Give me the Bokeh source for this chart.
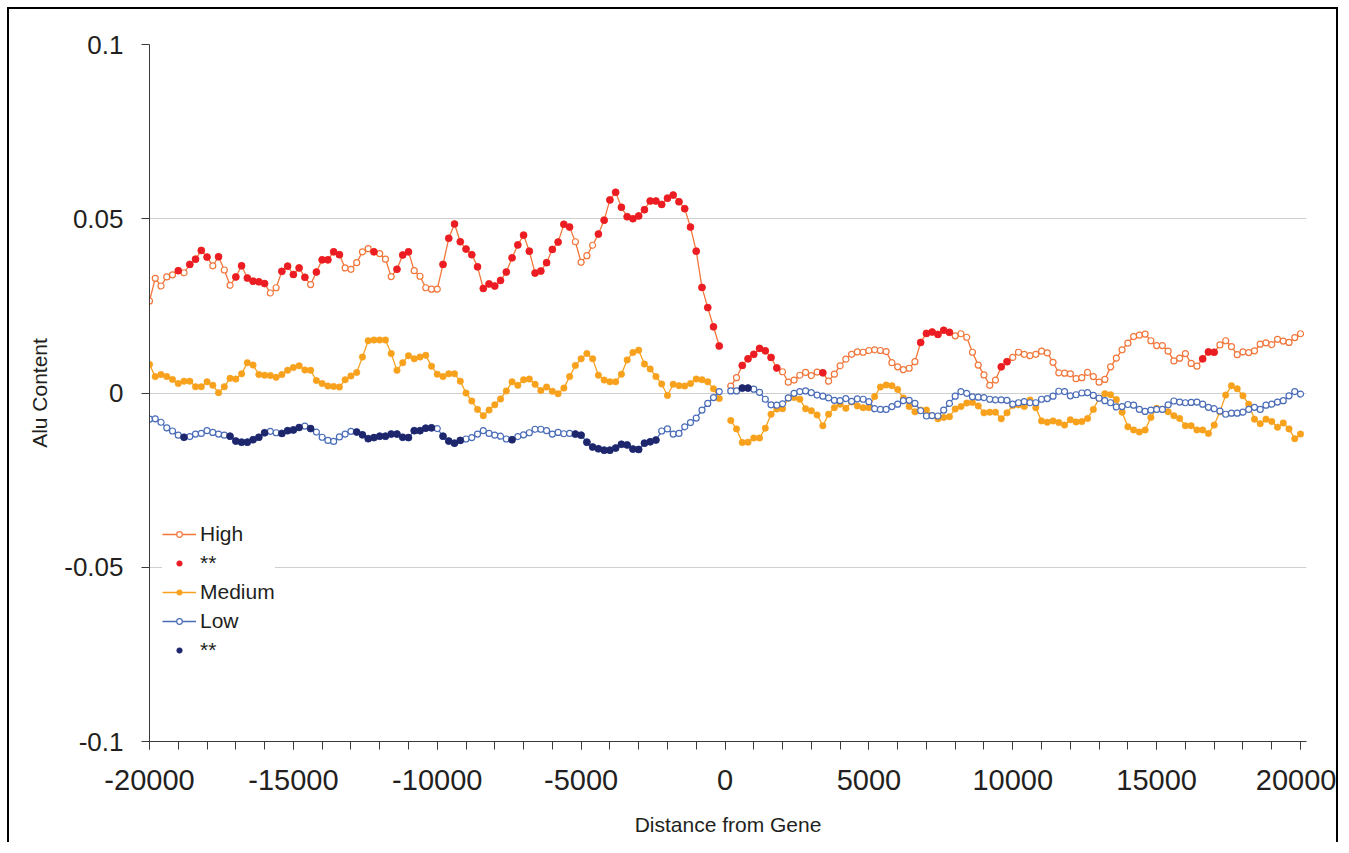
from bokeh.plotting import figure
from bokeh.models import (Range1d, SingleIntervalTicker, FixedTicker, NumeralTickFormatter,
                          Legend, LegendItem)
from bokeh.embed import file_html
from bokeh.resources import INLINE

# ---------------- data ----------------
x_up = list(range(-20000, 0, 200))        # upstream positions (-20000 .. -200)
x_down = list(range(200, 20001, 200))     # downstream positions (200 .. 20000)

high_up = [
    0.0264, 0.0329, 0.0307, 0.0333, 0.0339, 0.0351, 0.0345, 0.0369, 0.0384, 0.0409,
    0.0390, 0.0365, 0.0391, 0.0353, 0.0309, 0.0333, 0.0365, 0.0330, 0.0321, 0.0319,
    0.0314, 0.0287, 0.0302, 0.0349, 0.0364, 0.0340, 0.0359, 0.0332, 0.0311, 0.0347,
    0.0382, 0.0382, 0.0405, 0.0397, 0.0359, 0.0355, 0.0374, 0.0405, 0.0414, 0.0405,
    0.0400, 0.0384, 0.0334, 0.0355, 0.0396, 0.0405, 0.0351, 0.0335, 0.0302, 0.0298,
    0.0298, 0.0369, 0.0444, 0.0485, 0.0434, 0.0413, 0.0397, 0.0362, 0.0300, 0.0313,
    0.0307, 0.0323, 0.0347, 0.0388, 0.0425, 0.0453, 0.0407, 0.0344, 0.0350, 0.0374,
    0.0412, 0.0433, 0.0484, 0.0476, 0.0434, 0.0375, 0.0394, 0.0424, 0.0456, 0.0496,
    0.0554, 0.0576, 0.0533, 0.0506, 0.0500, 0.0508, 0.0526, 0.0551, 0.0551, 0.0541,
    0.0559, 0.0568, 0.0549, 0.0529, 0.0476, 0.0407, 0.0303, 0.0245, 0.0190, 0.0135]
high_up_sig = [
    0, 0, 0, 0, 0, 1, 0, 1, 1, 1,
    1, 0, 1, 0, 0, 1, 1, 1, 1, 1,
    1, 0, 0, 1, 1, 1, 1, 1, 0, 1,
    1, 1, 1, 1, 0, 0, 0, 0, 0, 1,
    0, 0, 0, 1, 1, 1, 0, 0, 0, 0,
    0, 1, 1, 1, 1, 1, 1, 1, 1, 1,
    1, 1, 1, 1, 1, 1, 1, 1, 1, 1,
    1, 1, 1, 1, 0, 0, 0, 0, 1, 1,
    1, 1, 1, 1, 1, 1, 1, 1, 1, 1,
    1, 1, 1, 1, 1, 1, 1, 1, 1, 1]

high_down = [
    0.0020, 0.0044, 0.0079, 0.0098, 0.0111, 0.0128, 0.0121, 0.0102, 0.0072, 0.0061,
    0.0031, 0.0037, 0.0051, 0.0059, 0.0050, 0.0060, 0.0058, 0.0034, 0.0054, 0.0078,
    0.0097, 0.0111, 0.0118, 0.0117, 0.0122, 0.0124, 0.0122, 0.0119, 0.0087, 0.0075,
    0.0067, 0.0071, 0.0090, 0.0145, 0.0171, 0.0175, 0.0168, 0.0180, 0.0174, 0.0164,
    0.0170, 0.0160, 0.0117, 0.0080, 0.0052, 0.0022, 0.0037, 0.0075, 0.0090, 0.0102,
    0.0117, 0.0111, 0.0107, 0.0111, 0.0120, 0.0115, 0.0088, 0.0058, 0.0057, 0.0055,
    0.0041, 0.0044, 0.0059, 0.0047, 0.0031, 0.0039, 0.0075, 0.0100, 0.0124, 0.0143,
    0.0162, 0.0166, 0.0169, 0.0150, 0.0136, 0.0136, 0.0120, 0.0092, 0.0100, 0.0113,
    0.0085, 0.0077, 0.0098, 0.0118, 0.0117, 0.0138, 0.0150, 0.0133, 0.0110, 0.0118,
    0.0116, 0.0121, 0.0140, 0.0144, 0.0139, 0.0154, 0.0149, 0.0145, 0.0159, 0.0170]
high_down_sig = [
    0, 0, 1, 1, 1, 1, 1, 1, 1, 0,
    0, 0, 0, 0, 0, 0, 1, 0, 0, 0,
    0, 0, 0, 0, 0, 0, 0, 0, 0, 0,
    0, 0, 0, 1, 1, 1, 1, 1, 1, 0,
    0, 0, 0, 0, 0, 0, 0, 1, 1, 0,
    0, 0, 0, 0, 0, 0, 0, 0, 0, 0,
    0, 0, 0, 0, 0, 0, 0, 0, 0, 0,
    0, 0, 0, 0, 0, 0, 0, 0, 0, 0,
    0, 0, 1, 1, 1, 0, 0, 0, 0, 0,
    0, 0, 0, 0, 0, 0, 0, 0, 0, 0]

medium_up = [
    0.0082, 0.0047, 0.0053, 0.0047, 0.0039, 0.0027, 0.0034, 0.0034, 0.0018, 0.0018,
    0.0032, 0.0022, 0.0001, 0.0018, 0.0042, 0.0040, 0.0055, 0.0087, 0.0080, 0.0053,
    0.0051, 0.0050, 0.0045, 0.0053, 0.0065, 0.0073, 0.0078, 0.0066, 0.0065, 0.0036,
    0.0027, 0.0020, 0.0019, 0.0017, 0.0038, 0.0049, 0.0059, 0.0103, 0.0150, 0.0152,
    0.0152, 0.0152, 0.0113, 0.0065, 0.0087, 0.0107, 0.0098, 0.0103, 0.0108, 0.0077,
    0.0054, 0.0047, 0.0055, 0.0055, 0.0034, 0.0000, -0.0023, -0.0047, -0.0065, -0.0049,
    -0.0034, -0.0017, 0.0006, 0.0032, 0.0022, 0.0038, 0.0040, 0.0025, 0.0007, 0.0017,
    0.0005, -0.0002, 0.0014, 0.0047, 0.0079, 0.0098, 0.0113, 0.0098, 0.0051, 0.0037,
    0.0032, 0.0032, 0.0054, 0.0095, 0.0116, 0.0123, 0.0083, 0.0069, 0.0047, 0.0026,
    -0.0007, 0.0025, 0.0021, 0.0020, 0.0027, 0.0040, 0.0038, 0.0032, 0.0012, -0.0016]

medium_down = [
    -0.0079, -0.0103, -0.0142, -0.0141, -0.0129, -0.0129, -0.0101, -0.0061, -0.0046, -0.0045,
    -0.0015, -0.0013, -0.0018, -0.0045, -0.0051, -0.0063, -0.0094, -0.0061, -0.0042, -0.0032,
    -0.0044, -0.0026, -0.0037, -0.0042, -0.0042, -0.0010, 0.0017, 0.0023, 0.0021, 0.0010,
    -0.0014, -0.0039, -0.0054, -0.0049, -0.0049, -0.0065, -0.0074, -0.0070, -0.0068, -0.0046,
    -0.0039, -0.0029, -0.0027, -0.0037, -0.0057, -0.0055, -0.0055, -0.0074, -0.0057, -0.0036,
    -0.0034, -0.0039, -0.0020, -0.0042, -0.0080, -0.0084, -0.0080, -0.0085, -0.0092, -0.0077,
    -0.0083, -0.0082, -0.0073, -0.0047, -0.0015, -0.0002, -0.0005, -0.0019, -0.0055, -0.0097,
    -0.0106, -0.0112, -0.0106, -0.0070, -0.0044, -0.0047, -0.0054, -0.0065, -0.0073, -0.0094,
    -0.0094, -0.0106, -0.0106, -0.0116, -0.0092, -0.0054, -0.0006, 0.0021, 0.0012, -0.0008,
    -0.0032, -0.0075, -0.0088, -0.0075, -0.0082, -0.0098, -0.0086, -0.0103, -0.0131, -0.0118]

low_up = [
    -0.0075, -0.0074, -0.0084, -0.0100, -0.0109, -0.0121, -0.0127, -0.0125, -0.0118, -0.0116,
    -0.0108, -0.0113, -0.0118, -0.0121, -0.0124, -0.0138, -0.0141, -0.0141, -0.0134, -0.0127,
    -0.0114, -0.0110, -0.0114, -0.0116, -0.0108, -0.0106, -0.0099, -0.0095, -0.0102, -0.0112,
    -0.0127, -0.0136, -0.0139, -0.0126, -0.0118, -0.0110, -0.0112, -0.0120, -0.0131, -0.0128,
    -0.0124, -0.0124, -0.0118, -0.0118, -0.0127, -0.0128, -0.0108, -0.0108, -0.0101, -0.0100,
    -0.0102, -0.0124, -0.0138, -0.0144, -0.0136, -0.0132, -0.0128, -0.0118, -0.0108, -0.0116,
    -0.0121, -0.0124, -0.0132, -0.0134, -0.0125, -0.0120, -0.0114, -0.0104, -0.0104, -0.0108,
    -0.0118, -0.0113, -0.0117, -0.0116, -0.0118, -0.0121, -0.0141, -0.0155, -0.0160, -0.0164,
    -0.0164, -0.0158, -0.0147, -0.0149, -0.0161, -0.0162, -0.0144, -0.0140, -0.0135, -0.0109,
    -0.0103, -0.0118, -0.0116, -0.0097, -0.0085, -0.0072, -0.0049, -0.0030, -0.0013, 0.0004]
low_up_sig = [
    0, 0, 0, 0, 0, 0, 1, 0, 0, 0,
    0, 0, 0, 0, 1, 1, 1, 1, 1, 1,
    1, 0, 0, 1, 1, 1, 1, 0, 1, 0,
    0, 0, 0, 0, 0, 0, 1, 1, 1, 1,
    1, 1, 1, 1, 1, 1, 1, 1, 1, 1,
    0, 1, 1, 1, 1, 0, 0, 0, 0, 0,
    0, 0, 0, 1, 0, 0, 0, 0, 0, 0,
    0, 0, 0, 0, 1, 1, 1, 1, 1, 1,
    1, 1, 1, 1, 1, 1, 1, 1, 1, 0,
    0, 0, 0, 0, 0, 0, 0, 0, 0, 0]

low_down = [
    0.0006, 0.0006, 0.0014, 0.0014, 0.0011, 0.0002, -0.0018, -0.0034, -0.0035, -0.0031,
    -0.0014, -0.0001, 0.0004, 0.0006, 0.0001, -0.0006, -0.0009, -0.0014, -0.0021, -0.0022,
    -0.0016, -0.0024, -0.0017, -0.0018, -0.0025, -0.0045, -0.0047, -0.0047, -0.0039, -0.0032,
    -0.0022, -0.0021, -0.0030, -0.0051, -0.0066, -0.0065, -0.0066, -0.0049, -0.0030, -0.0009,
    0.0004, -0.0001, -0.0011, -0.0012, -0.0013, -0.0018, -0.0020, -0.0020, -0.0021, -0.0032,
    -0.0028, -0.0025, -0.0028, -0.0028, -0.0018, -0.0016, -0.0009, 0.0005, 0.0004, -0.0008,
    -0.0005, 0.0000, 0.0001, -0.0007, -0.0015, -0.0022, -0.0028, -0.0040, -0.0039, -0.0033,
    -0.0035, -0.0047, -0.0053, -0.0049, -0.0047, -0.0047, -0.0034, -0.0023, -0.0026, -0.0028,
    -0.0027, -0.0026, -0.0032, -0.0041, -0.0045, -0.0052, -0.0061, -0.0058, -0.0058, -0.0055,
    -0.0047, -0.0041, -0.0047, -0.0035, -0.0032, -0.0026, -0.0022, -0.0008, 0.0004, -0.0003]
low_down_sig = [0, 0, 1, 1] + [0] * 96

y_ticks = [-0.1, -0.05, 0, 0.05, 0.1]

# ---------------- style ----------------
C_HIGH = "#F2763A"
C_HIGH_SIG = "#EC1C24"
C_MED = "#F7A11C"
C_LOW = "#4A6CB8"
C_LOW_SIG = "#1F276C"
FONT = "Liberation Sans"
TXT = "#231F20"

p = figure(width=1331, height=835,
           x_range=Range1d(-20000, 20208), y_range=Range1d(-0.1, 0.1),
           output_backend="svg", toolbar_location=None,
           min_border_left=140, min_border_right=34,
           min_border_top=35, min_border_bottom=103)
p.styles = {"border-left": "2px solid #000", "border-top": "2px solid #000",
            "border-right": "2px solid #000",
            "margin-left": "7px", "margin-top": "7px"}
p.outline_line_color = None
p.background_fill_color = "white"

# axes
xa = p.xaxis[0]
xa.ticker = SingleIntervalTicker(interval=5000, num_minor_ticks=5)
xa.formatter = NumeralTickFormatter(format="0")
ya = p.yaxis[0]
ya.ticker = FixedTicker(ticks=y_ticks)
ya.formatter = NumeralTickFormatter(format="0.[00]")
for ax in (xa, ya):
    ax.axis_line_color = "#3a3a3a"
    ax.axis_line_width = 1
    ax.major_tick_line_color = "#3a3a3a"
    ax.minor_tick_line_color = "#3a3a3a"
    ax.major_tick_in = 0
    ax.major_tick_out = 8
    ax.minor_tick_in = 0
    ax.major_label_text_font = FONT
    ax.major_label_text_color = TXT
    ax.axis_label_text_font = FONT
    ax.axis_label_text_font_style = "normal"
    ax.axis_label_text_color = TXT
    ax.axis_label_text_font_size = "21px"
xa.minor_tick_out = 8
ya.minor_tick_out = 0
xa.major_label_text_font_size = "29px"
ya.major_label_text_font_size = "26px"
xa.major_label_standoff = 20
ya.major_label_standoff = 18
xa.axis_label = "Distance from Gene"
ya.axis_label = "Alu Content"
xa.axis_label_standoff = 20
ya.axis_label_standoff = 10

p.xgrid.visible = False
p.ygrid.ticker = FixedTicker(ticks=y_ticks)
p.ygrid.grid_line_color = "#cfcfcf"
p.ygrid.grid_line_width = 1

# ---------------- series ----------------
def sig_pts(xs, ys, flags):
    return [x for x, f in zip(xs, flags) if f], [y for y, f in zip(ys, flags) if f]

LW = 1.3
# High
hl1 = p.line(x_up, high_up, line_color=C_HIGH, line_width=LW)
p.line(x_down, high_down, line_color=C_HIGH, line_width=LW)
hs1 = p.scatter(x_up, high_up, marker="circle", size=6, fill_color="white",
                line_color=C_HIGH, line_width=1.2)
p.scatter(x_down, high_down, marker="circle", size=6, fill_color="white",
          line_color=C_HIGH, line_width=1.2)
# High significant
sx1, sy1 = sig_pts(x_up, high_up, high_up_sig)
sx2, sy2 = sig_pts(x_down, high_down, high_down_sig)
hsig = p.scatter(sx1 + sx2, sy1 + sy2, marker="circle", size=7, fill_color=C_HIGH_SIG,
                 line_color=C_HIGH_SIG, line_width=0.5)
# Medium
ml1 = p.line(x_up, medium_up, line_color=C_MED, line_width=LW)
p.line(x_down, medium_down, line_color=C_MED, line_width=LW)
ms1 = p.scatter(x_up, medium_up, marker="circle", size=6.5, fill_color=C_MED,
                line_color=C_MED, line_width=0.5)
p.scatter(x_down, medium_down, marker="circle", size=6.5, fill_color=C_MED,
          line_color=C_MED, line_width=0.5)
# Low
ll1 = p.line(x_up, low_up, line_color=C_LOW, line_width=LW)
p.line(x_down, low_down, line_color=C_LOW, line_width=LW)
ls1 = p.scatter(x_up, low_up, marker="circle", size=6, fill_color="white",
                line_color=C_LOW, line_width=1.2)
p.scatter(x_down, low_down, marker="circle", size=6, fill_color="white",
          line_color=C_LOW, line_width=1.2)
# Low significant
tx1, ty1 = sig_pts(x_up, low_up, low_up_sig)
tx2, ty2 = sig_pts(x_down, low_down, low_down_sig)
lsig = p.scatter(tx1 + tx2, ty1 + ty2, marker="circle", size=7, fill_color=C_LOW_SIG,
                 line_color=C_LOW_SIG, line_width=0.5)

legend = Legend(items=[
    LegendItem(label="High", renderers=[hl1, hs1]),
    LegendItem(label="**", renderers=[hsig]),
    LegendItem(label="Medium", renderers=[ml1, ms1]),
    LegendItem(label="Low", renderers=[ll1, ls1]),
    LegendItem(label="**", renderers=[lsig]),
], location=(13, 77))
legend.padding = 6
legend.spacing = 0
legend.margin = 0
legend.glyph_width = 34
legend.glyph_height = 14
legend.label_height = 29
legend.label_standoff = 4
legend.label_text_font = FONT
legend.label_text_font_size = "21px"
legend.label_text_color = TXT
legend.background_fill_color = "white"
legend.background_fill_alpha = 1
legend.border_line_color = None
p.add_layout(legend)

open("out.html", "w").write(file_html(p, INLINE))
